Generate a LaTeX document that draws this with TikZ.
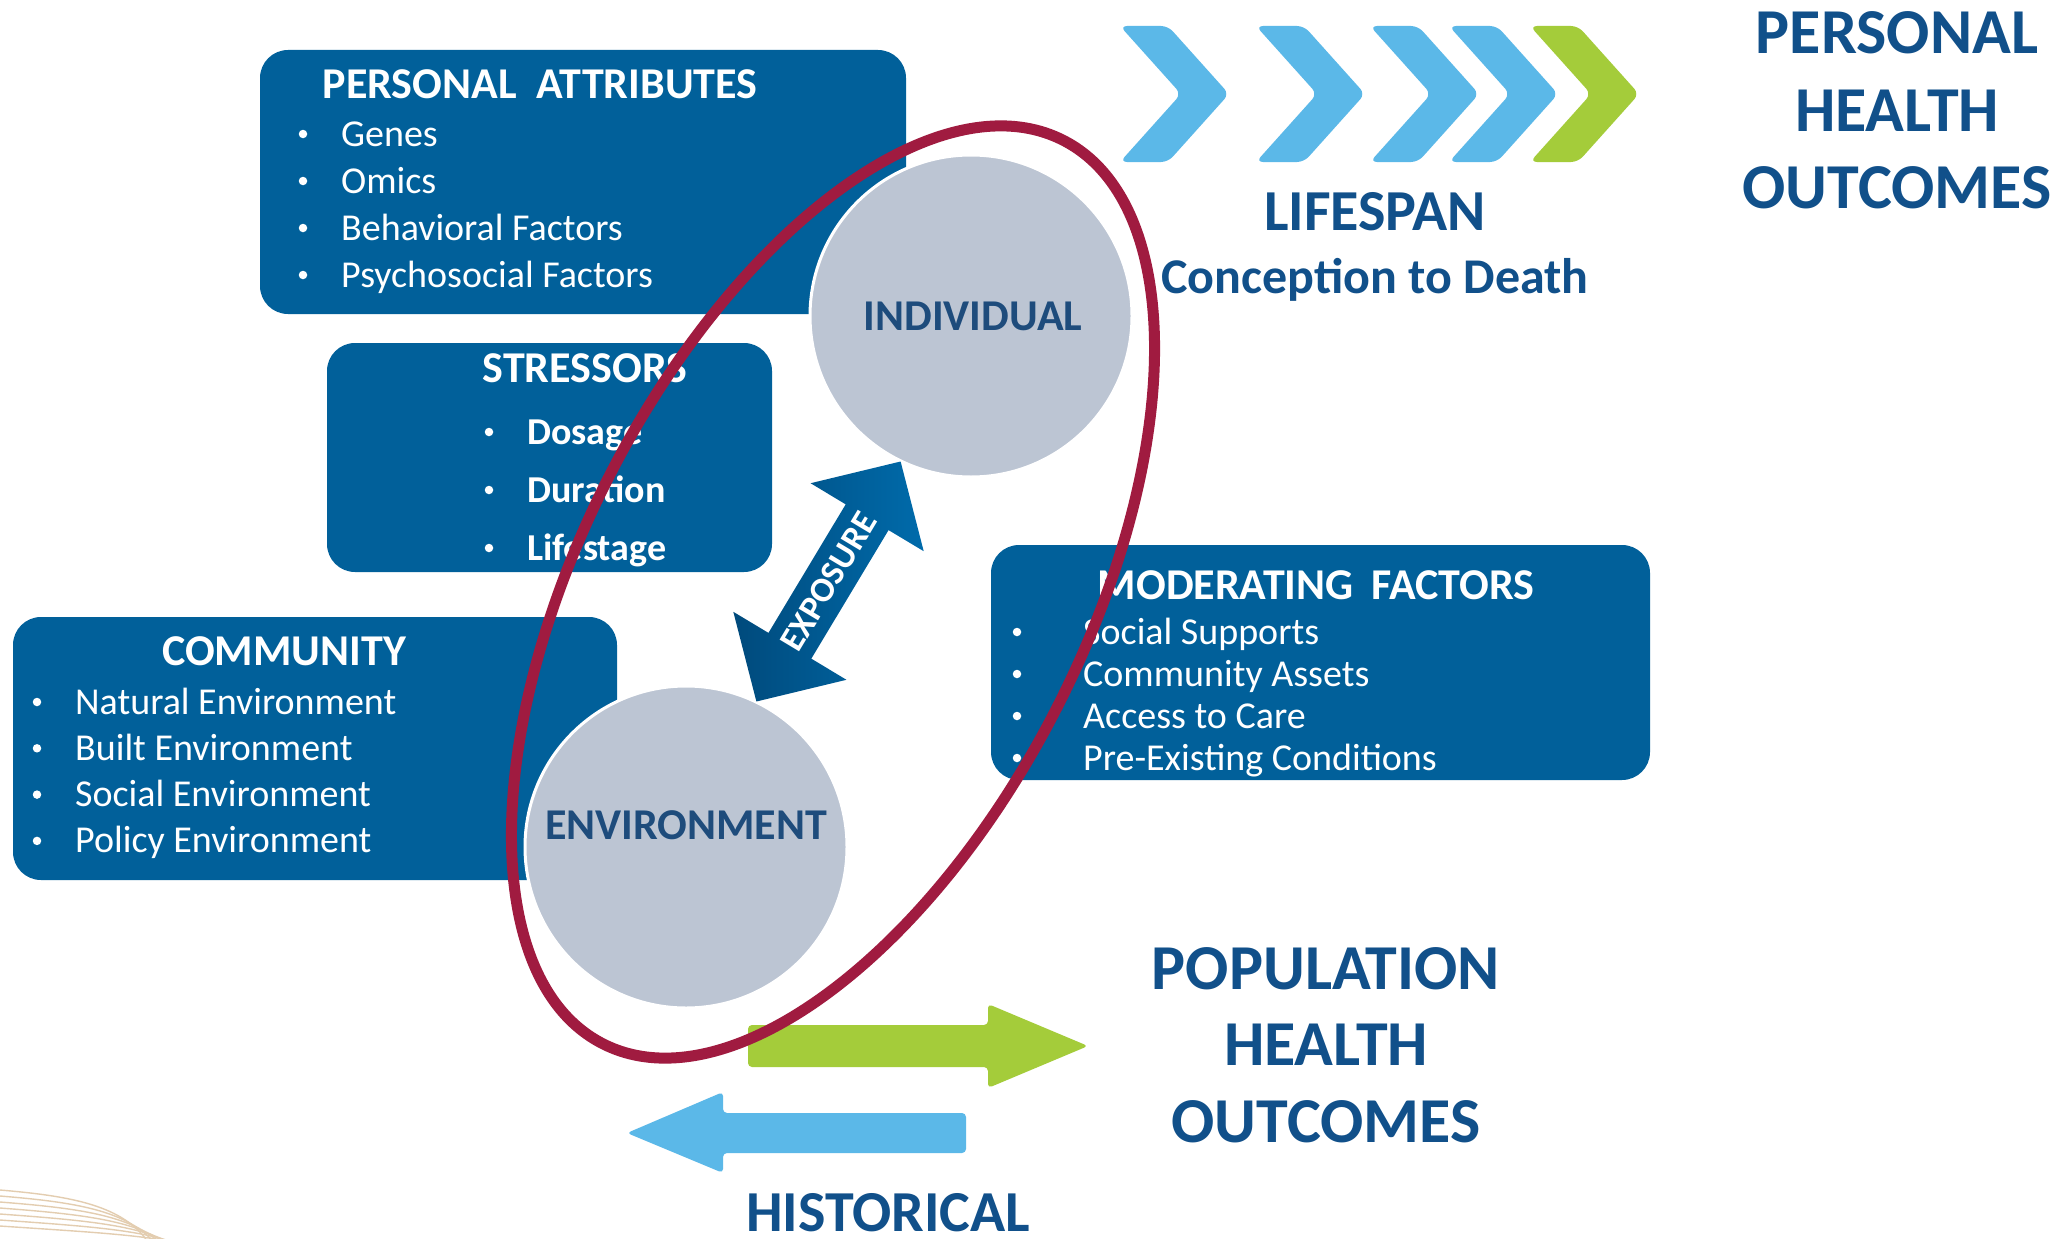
\documentclass[tikz,border=0pt]{standalone}
\usepackage{fontspec}
\setmainfont{Carlito}
\usetikzlibrary{calc}
\definecolor{boxblue}{HTML}{01609A}
\definecolor{txtblue}{HTML}{11508A}
\definecolor{circtxt}{HTML}{1E4C7C}
\definecolor{circgray}{HTML}{BCC5D3}
\definecolor{redring}{HTML}{A01B40}
\definecolor{chevblue}{HTML}{5BB8E8}
\definecolor{chevgreen}{HTML}{A4CC3A}
\definecolor{expdark}{HTML}{004A7C}
\definecolor{explight}{HTML}{006BAB}
\definecolor{beige}{HTML}{E3CDB0}
\begin{document}
\begin{tikzpicture}[x=1pt,y=-1pt,
  box/.style={fill=boxblue, rounded corners=28pt, inner sep=0pt},
  boxtitle/.style={text=white, font=\fontsize{44}{50}\selectfont\bfseries, anchor=base, inner sep=0pt},
  item/.style={text=white, font=\fontsize{38}{44}\selectfont, anchor=base west, inner sep=0pt},
  bitem/.style={text=white, font=\fontsize{38}{44}\selectfont\bfseries, anchor=base west, inner sep=0pt},
  bul/.style={fill=white, circle, inner sep=0pt, minimum size=8.5pt},
  circ/.style={circle, fill=circgray, draw=white, line width=3pt, minimum size=322pt, inner sep=0pt},
  circtext/.style={text=circtxt, font=\fontsize{44}{50}\selectfont\bfseries, anchor=base, inner sep=0pt},
  bigtext/.style={text=txtblue, font=\fontsize{64}{76}\selectfont\bfseries, anchor=base, inner sep=0pt},
  midtext/.style={text=txtblue, font=\fontsize{58}{66}\selectfont\bfseries, anchor=base, inner sep=0pt},
  chevron/.style={rounded corners=7pt},
  flatarrow/.style={rounded corners=4pt}
]
\useasboundingbox (0,0) rectangle (2066,1239);
\fill[white] (0,0) rectangle (2066,1239);

% decorative lines bottom-left
\begin{scope}
\clip (0,0) rectangle (2066,1239);
\foreach \i in {0,...,6}{
  \draw[beige, line width=1.4pt] (0,{1190+6*\i}) .. controls ({70+3*\i},{1196+6*\i}) and ({125+4*\i},{1205+5*\i}) .. ({150+6*\i},1245);
}
\end{scope}

% PERSONAL ATTRIBUTES
\node[box, minimum width=646pt, minimum height=264pt] (pabox) at (583,182) {};
\node[boxtitle] (patitle) at (540,98) {PERSONAL\hspace{0.45em}ATTRIBUTES};
\foreach \t [count=\i] in {Genes, Omics, Behavioral Factors, Psychosocial Factors}{
  \node[bul] (pab\i) at (303,{134+47*(\i-1)}) {};
  \node[item] (pat\i) at (341,{146+47*(\i-1)}) {\t};
}

% STRESSORS
\node[box, minimum width=445pt, minimum height=229pt] (stbox) at (549.5,457.5) {};
\node[boxtitle] (sttitle) at (585,382) {STRESSORS};
\foreach \t [count=\i] in {Dosage, Duration, Lifestage}{
  \node[bul] (stb\i) at (489,{432+58*(\i-1)}) {};
  \node[bitem] (stt\i) at (527,{444+58*(\i-1)}) {\t};
}

% COMMUNITY
\node[box, minimum width=604pt, minimum height=263pt] (cobox) at (315,748.5) {};
\node[boxtitle] (cotitle) at (284,665) {COMMUNITY};
\foreach \t [count=\i] in {Natural Environment, Built Environment, Social Environment, Policy Environment}{
  \node[bul] (cob\i) at (37,{702+46.3*(\i-1)}) {};
  \node[item] (cot\i) at (75,{714+46.3*(\i-1)}) {\t};
}

% MODERATING FACTORS
\node[box, minimum width=659pt, minimum height=235pt] (mobox) at (1320.5,662.5) {};
\node[boxtitle] (motitle) at (1316,599) {MODERATING\hspace{0.4em}FACTORS};
\foreach \t [count=\i] in {Social Supports, Community Assets, Access to Care, Pre-Existing Conditions}{
  \node[bul] (mob\i) at (1017,{632+42*(\i-1)}) {};
  \node[item] (mot\i) at (1083,{644+42*(\i-1)}) {\t};
}

% circles
\node[circ] (ind) at (971,316) {};
\node[circ] (env) at (686,847) {};
\node[circtext] (indt) at (973,330) {INDIVIDUAL};
\node[circtext] (envt) at (686,839) {ENVIRONMENT};

% exposure double arrow
\coordinate (expmid) at ($(env)!0.5!(ind)$);
\begin{scope}[shift={(expmid)}, rotate=59]
  \shade[left color=expdark, right color=explight]
    (-140,0) -- (-75,66) -- (-75,25) -- (75,25) -- (75,66) -- (140,0)
    -- (75,-66) -- (75,-25) -- (-75,-25) -- (-75,-66) -- cycle;
  \node[transform shape, text=white, font=\fontsize{35}{40}\selectfont\bfseries, inner sep=0pt] (expt) at (0,0) {EXPOSURE};
\end{scope}

% chevrons
\foreach \x/\c [count=\i] in {1120/chevblue, 1256/chevblue, 1370/chevblue, 1449/chevblue, 1530/chevgreen}{
  \fill[\c, chevron] (\x,26) -- (\x+48,26) -- (\x+109,94) -- (\x+48,162) -- (\x,162) -- (\x+61,94) -- cycle;
}
\node[midtext] (lifespan) at (1375,230) {LIFESPAN};
\node[text=txtblue, font=\fontsize{50}{58}\selectfont\bfseries, anchor=base, inner sep=0pt] (conc) at (1375,293) {Conception to Death};

\node[bigtext] (pho1) at (1897,54) {PERSONAL};
\node[bigtext] (pho2) at (1897,131) {HEALTH};
\node[bigtext] (pho3) at (1897,208) {OUTCOMES};

\node[bigtext] (pop1) at (1326,989) {POPULATION};
\node[bigtext] (pop2) at (1326,1065) {HEALTH};
\node[bigtext] (pop3) at (1326,1142) {OUTCOMES};

% flat arrows
\fill[chevgreen, flatarrow] (748,1025) -- (988,1025) -- (988,1004) -- (1088,1046) -- (988,1088) -- (988,1067) -- (748,1067) -- cycle;
\fill[chevblue, flatarrow] (966,1113) -- (723,1113) -- (723,1092) -- (627,1133) -- (723,1173) -- (723,1153) -- (966,1153) -- cycle;
\node[midtext] (hist) at (888,1231) {HISTORICAL};

% red ellipse
\draw[redring, line width=11pt, rotate around={63:(833,592)}] (833,592) ellipse [x radius=507pt, y radius=252pt];
\end{tikzpicture}
\end{document}
